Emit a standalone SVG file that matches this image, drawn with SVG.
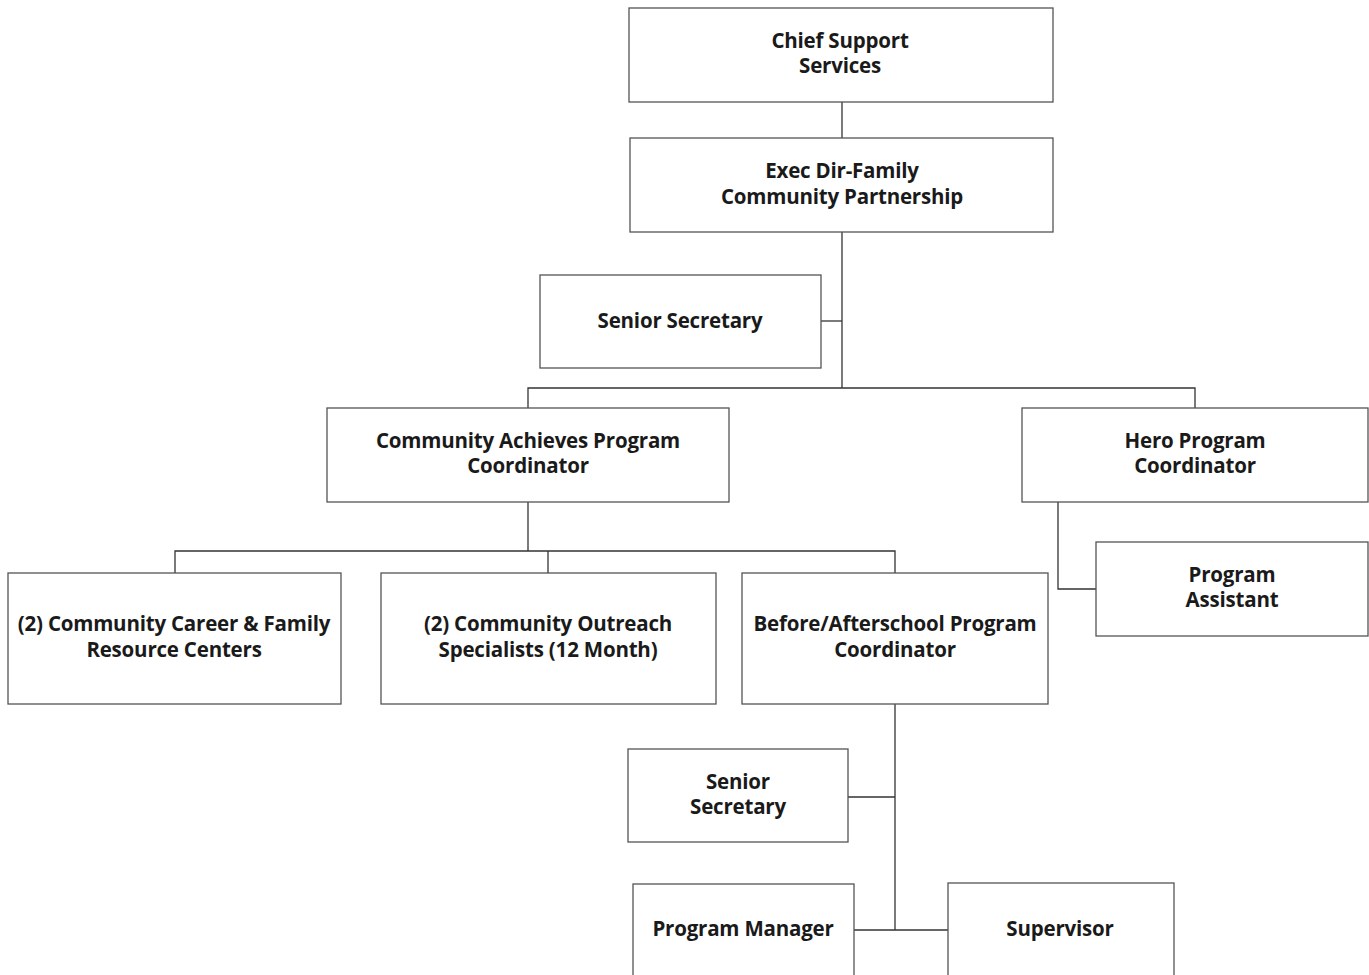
<svg xmlns="http://www.w3.org/2000/svg" width="1369" height="975" viewBox="0 0 1369 975">
  <style>
    .box { fill: #ffffff; stroke: #555555; stroke-width: 1.3; }
    .lbl { font-family: "Open Sans", "Noto Sans", sans-serif; font-weight: 700; font-size: 20.5px; letter-spacing: -0.2px; fill: #1a1a1a; text-anchor: middle; }
    .wire { fill: none; stroke: #333333; stroke-width: 1.3; }
  </style>
  <rect width="1369" height="975" fill="#ffffff"/>

  <g id="connectors">
    <path class="wire" d="M842 102 V138"/>
    <path class="wire" d="M842 232 V388"/>
    <path class="wire" d="M821 321 H842"/>
    <path class="wire" d="M528 408 V388 H1195 V408"/>
    <path class="wire" d="M1058 502 V589 H1096"/>
    <path class="wire" d="M528 502 V551"/>
    <path class="wire" d="M175 573 V551 H895 V573"/>
    <path class="wire" d="M548 551 V573"/>
    <path class="wire" d="M895 704 V930"/>
    <path class="wire" d="M848 797 H895"/>
    <path class="wire" d="M854 930 H948"/>
  </g>

  <g id="chief-support-services">
    <rect class="box" x="629" y="8" width="424" height="94"/>
    <text class="lbl" x="840" y="48">Chief Support</text>
    <text class="lbl" x="840" y="73">Services</text>
  </g>

  <g id="exec-dir">
    <rect class="box" x="630" y="138" width="423" height="94"/>
    <text class="lbl" x="842" y="178">Exec Dir-Family</text>
    <text class="lbl" x="842" y="204">Community Partnership</text>
  </g>

  <g id="senior-secretary-1">
    <rect class="box" x="540" y="275" width="281" height="93"/>
    <text class="lbl" x="680" y="328">Senior Secretary</text>
  </g>

  <g id="community-achieves">
    <rect class="box" x="327" y="408" width="402" height="94"/>
    <text class="lbl" x="528" y="448">Community Achieves Program</text>
    <text class="lbl" x="528" y="473">Coordinator</text>
  </g>

  <g id="hero-coordinator">
    <rect class="box" x="1022" y="408" width="346" height="94"/>
    <text class="lbl" x="1195" y="448">Hero Program</text>
    <text class="lbl" x="1195" y="473">Coordinator</text>
  </g>

  <g id="program-assistant">
    <rect class="box" x="1096" y="542" width="272" height="94"/>
    <text class="lbl" x="1232" y="582">Program</text>
    <text class="lbl" x="1232" y="607">Assistant</text>
  </g>

  <g id="career-family-centers">
    <rect class="box" x="8" y="573" width="333" height="131"/>
    <text class="lbl" x="174" y="631">(2) Community Career &amp; Family</text>
    <text class="lbl" x="174" y="657">Resource Centers</text>
  </g>

  <g id="outreach-specialists">
    <rect class="box" x="381" y="573" width="335" height="131"/>
    <text class="lbl" x="548" y="631">(2) Community Outreach</text>
    <text class="lbl" x="548" y="657">Specialists (12 Month)</text>
  </g>

  <g id="before-afterschool">
    <rect class="box" x="742" y="573" width="306" height="131"/>
    <text class="lbl" x="895" y="631">Before/Afterschool Program</text>
    <text class="lbl" x="895" y="657">Coordinator</text>
  </g>

  <g id="senior-secretary-2">
    <rect class="box" x="628" y="749" width="220" height="93"/>
    <text class="lbl" x="738" y="789">Senior</text>
    <text class="lbl" x="738" y="814">Secretary</text>
  </g>

  <g id="program-manager">
    <rect class="box" x="633" y="884" width="221" height="110"/>
    <text class="lbl" x="743" y="936">Program Manager</text>
  </g>

  <g id="supervisor">
    <rect class="box" x="948" y="883" width="226" height="110"/>
    <text class="lbl" x="1060" y="936">Supervisor</text>
  </g>
</svg>
